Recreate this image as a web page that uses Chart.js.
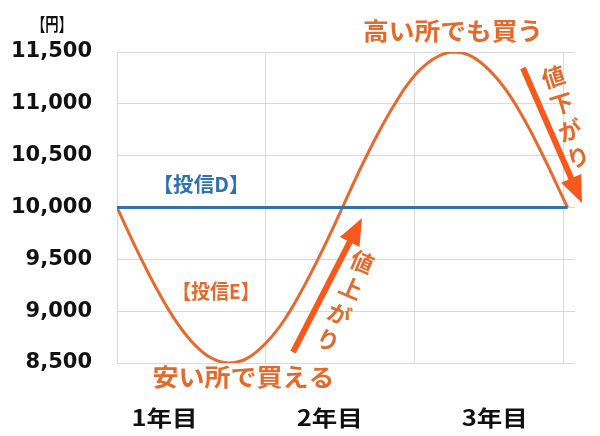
<!DOCTYPE html>
<html>
<head>
<meta charset="utf-8">
<script src="https://cdn.jsdelivr.net/npm/chart.js@4.4.1/dist/chart.umd.min.js"></script>
<style>
  body { margin: 0; background: #fff; }
  #wrap { width: 600px; height: 436px; }
</style>
</head>
<body>
<div id="wrap"><canvas id="fundChart"></canvas></div>
<script>
// 経過年数と基準価額 (読み取り値)
const years = [0, 0.125, 0.25, 0.375, 0.5, 0.625, 0.75, 0.875, 1, 1.125, 1.25, 1.375, 1.5,
               1.625, 1.75, 1.875, 2, 2.125, 2.25, 2.375, 2.5, 2.625, 2.75, 2.875, 3, 3.03];
const fundE = [10000, 9615, 9260, 8950, 8710, 8555, 8500, 8545, 8690, 8915, 9220, 9570, 9950,
               10340, 10700, 11015, 11270, 11430, 11500, 11465, 11330, 11115, 10820, 10470, 10090, 10000];
const fundDYears = [0, 3.03];
const fundD = [10000, 10000];
const yearLabels = ["1年目", "2年目", "3年目"];
const yearLabelPos = [0.32, 1.43, 2.54];
const yTicks = [8500, 9000, 9500, 10000, 10500, 11000, 11500];

const ORANGE_LINE = "#E8692D";
const ORANGE_TEXT = "#E26A2C";
const ARROW = "#F55A1C";
const BLUE = "#2E72B4";
const JP = "'Noto Sans CJK JP', sans-serif";

function fitText(ctx, text, x, y, width, size, color, family) {
    ctx.save();
    ctx.font = "bold " + size + "px " + (family || JP);
    ctx.fillStyle = color;
    ctx.textAlign = "center";
    ctx.textBaseline = "middle";
    const w = ctx.measureText(text).width;
    ctx.translate(x, y);
    ctx.scale(width / w, 1);
    ctx.fillText(text, 0, 0);
    ctx.restore();
}

function arrow(ctx, x1, y1, x2, y2) {
    const ang = Math.atan2(y2 - y1, x2 - x1);
    const len = Math.hypot(x2 - x1, y2 - y1);
    ctx.save();
    ctx.translate(x1, y1);
    ctx.rotate(ang);
    ctx.fillStyle = ARROW;
    ctx.fillRect(0, -3, len - 22, 6);
    ctx.beginPath();
    ctx.moveTo(len, 0);
    ctx.lineTo(len - 27, -11);
    ctx.lineTo(len - 27, 11);
    ctx.closePath();
    ctx.fill();
    ctx.restore();
}

function slantText(ctx, chars, x, y, rot, step) {
    ctx.save();
    ctx.font = "bold 23px " + JP;
    ctx.fillStyle = ORANGE_TEXT;
    ctx.textAlign = "center";
    ctx.textBaseline = "middle";
    const dx = -Math.sin(rot) * step, dy = Math.cos(rot) * step;
    for (let i = 0; i < chars.length; i++) {
        ctx.save();
        ctx.translate(x + dx * i, y + dy * i);
        ctx.rotate(rot);
        ctx.fillText(chars[i], 0, 0);
        ctx.restore();
    }
    ctx.restore();
}

const notes = {
    id: "notes",
    afterDatasetsDraw(chart) {
        const ctx = chart.ctx;
        const xs = chart.scales.x, ys = chart.scales.y;
        const px = (x) => xs.getPixelForValue(x);
        const py = (y) => ys.getPixelForValue(y);

        fitText(ctx, "【円】", px(-0.437), py(11770), 40, 18, "#111");
        fitText(ctx, "高い所でも買う", px(2.26), py(11702), 180, 24, ORANGE_TEXT);
        fitText(ctx, "安い所で買える", px(0.85), py(8365), 182, 24, ORANGE_TEXT);
        fitText(ctx, "【投信D】", px(0.565), py(10227), 97, 20, BLUE);
        fitText(ctx, "【投信E】", px(0.665), py(9195), 88, 20, ORANGE_TEXT);

        yearLabels.forEach((t, i) => {
            fitText(ctx, t, px(yearLabelPos[i]), py(7970), 66, 22, "#111");
        });

        arrow(ctx, px(1.184), py(8606), px(1.648), py(9899));
        arrow(ctx, px(2.730), py(11346), px(3.127), py(10043));

        slantText(ctx, "値上がり", px(1.648), py(9474), 0.41, 28.5);
        slantText(ctx, "値下がり", px(2.935), py(11259), -0.3, 28);
    }
};

new Chart(document.getElementById("fundChart"), {
    type: "line",
    data: {
        datasets: [{
            label: "投信D",
            data: fundDYears.map((x, i) => ({ x: x, y: fundD[i] })),
            borderColor: BLUE,
            borderWidth: 3,
            pointRadius: 0
        }, {
            label: "投信E",
            data: years.map((x, i) => ({ x: x, y: fundE[i] })),
            borderColor: ORANGE_LINE,
            borderWidth: 3,
            pointRadius: 0,
            tension: 0.4
        }]
    },
    options: {
        responsive: true,
        maintainAspectRatio: false,
        animation: false,
        layout: { padding: { top: 52, right: 25, bottom: 73, left: 0 } },
        plugins: { legend: { display: false }, tooltip: { enabled: false } },
        scales: {
            x: {
                type: "linear",
                min: 0,
                max: 3.08,
                afterBuildTicks: (s) => { s.ticks = [0, 1, 2, 3].map(v => ({ value: v })); },
                ticks: { display: false },
                grid: { color: "#D9D9D9", drawTicks: false },
                border: { display: false }
            },
            y: {
                min: 8500,
                max: 11500,
                afterBuildTicks: (s) => { s.ticks = yTicks.map(v => ({ value: v })); },
                afterFit: (s) => { s.width = 117; },
                ticks: {
                    padding: 25,
                    color: "#111",
                    font: { family: "'DejaVu Sans'", size: 21, weight: "bold" },
                    callback: (v) => v.toLocaleString("en-US")
                },
                grid: { color: "#D9D9D9", drawTicks: false },
                border: { display: false }
            }
        }
    },
    plugins: [notes]
});
</script>
</body>
</html>
